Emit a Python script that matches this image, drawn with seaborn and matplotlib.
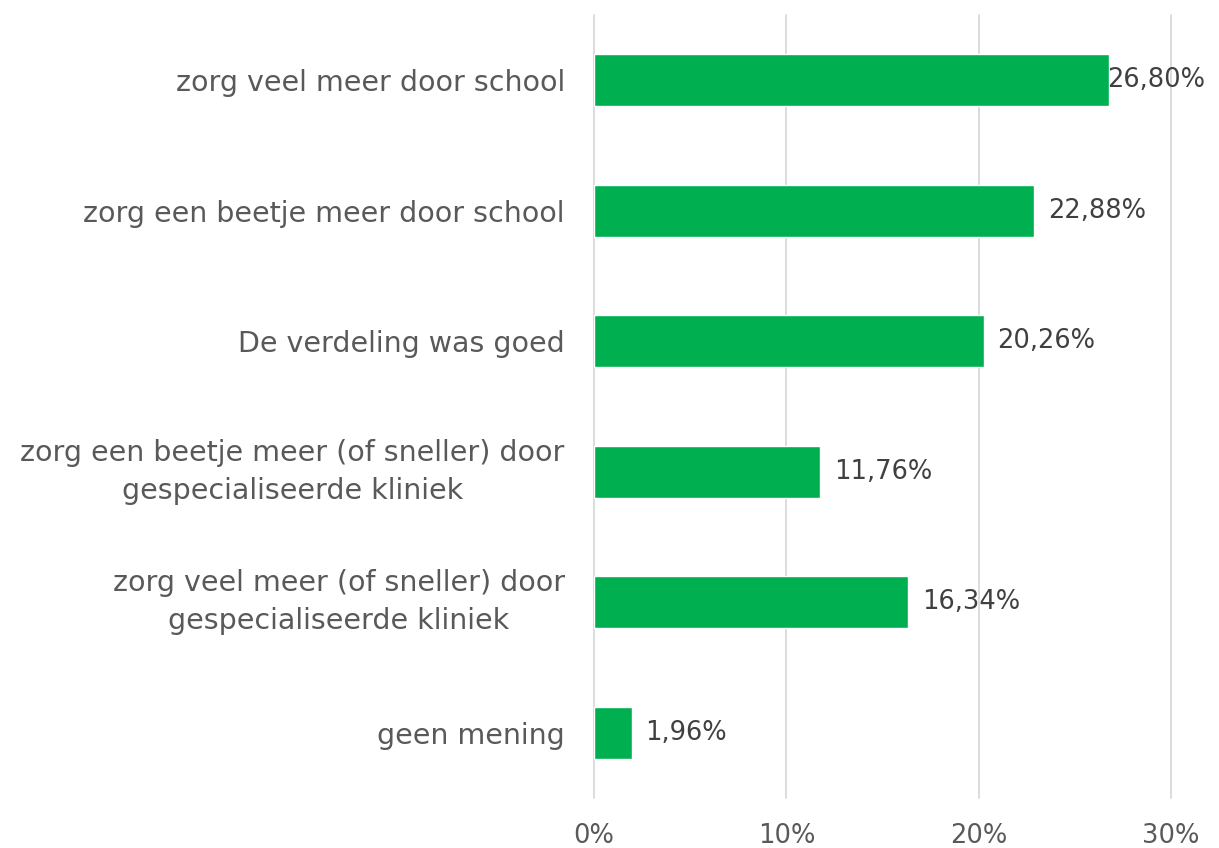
import matplotlib
matplotlib.use("Agg")
import matplotlib.pyplot as plt
import seaborn as sns
import pandas as pd

categories = [
    "zorg veel meer door school",
    "zorg een beetje meer door school",
    "De verdeling was goed",
    "zorg een beetje meer (of sneller) door\ngespecialiseerde kliniek",
    "zorg veel meer (of sneller) door\ngespecialiseerde kliniek",
    "geen mening",
]
values = [26.80, 22.88, 20.26, 11.76, 16.34, 1.96]
value_labels = ["26,80%", "22,88%", "20,26%", "11,76%", "16,34%", "1,96%"]
x_ticks = [0, 10, 20, 30]
x_tick_labels = ["0%", "10%", "20%", "30%"]

sns.set_theme(style="white")
plt.rcParams["font.family"] = ["DejaVu Sans"]

df = pd.DataFrame({"categorie": categories, "waarde": values})

fig = plt.figure(figsize=(12.19, 8.48), dpi=100)
ax = fig.add_axes([0.4873, 0.059, 0.4733, 0.9233])

sns.barplot(data=df, y="categorie", x="waarde", color="#00B050",
            width=0.4, saturation=1, ax=ax, zorder=3)

ax.set_xlim(0, 30)
ax.set_xticks(x_ticks)
ax.set_xticklabels(x_tick_labels, fontsize=18.5, color="#595959")
ax.tick_params(axis="x", length=0, pad=18)
ax.tick_params(axis="y", length=0, pad=21)
for lbl in ax.get_yticklabels():
    lbl.set_fontsize(20.5)
    lbl.set_color("#595959")
    lbl.set_horizontalalignment("right")
    lbl.set_multialignment("center")
    lbl.set_linespacing(1.45)
    if "\n" in lbl.get_text():
        lbl.set_verticalalignment("center")
ax.set_xlabel("")
ax.set_ylabel("")
ax.xaxis.grid(True, color="#D9D9D9", linewidth=1.3, zorder=0)
for gl in ax.get_xgridlines():
    gl.set_clip_on(False)
for s in ax.spines.values():
    s.set_visible(False)

for i, (v, t) in enumerate(zip(values, value_labels)):
    off = -2 if v > 26 else 10
    ax.annotate(t, xy=(v, i), xytext=(off, 0), textcoords="offset points",
                va="center", ha="left", fontsize=18.5, color="#404040",
                annotation_clip=False, zorder=4)

fig.savefig("out.png", dpi=100)
